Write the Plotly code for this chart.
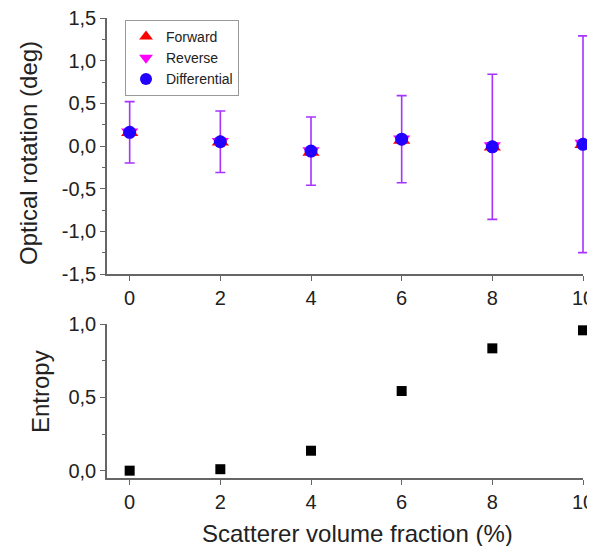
import plotly.graph_objects as go

# ---- data ----
fraction = [0, 2, 4, 6, 8, 10]
forward = [0.16, 0.05, -0.07, 0.07, -0.01, 0.02]
reverse = [0.16, 0.05, -0.06, 0.08, 0.00, 0.03]
differential = [0.16, 0.05, -0.06, 0.08, -0.01, 0.02]
rot_error = [0.36, 0.36, 0.40, 0.51, 0.85, 1.27]
entropy = [0.00, 0.01, 0.136, 0.543, 0.834, 0.957]

rot_ticks = [-1.5, -1.0, -0.5, 0.0, 0.5, 1.0, 1.5]
rot_ticktext = ["-1,5", "-1,0", "-0,5", "0,0", "0,5", "1,0", "1,5"]
ent_ticks = [0.0, 0.5, 1.0]
ent_ticktext = ["0,0", "0,5", "1,0"]
x_ticks = [0, 2, 4, 6, 8, 10]

FONT = "Arial, 'Liberation Sans', sans-serif"
AX = "#666666"
ERR = "#A633FF"
TXT = "#222222"

# page has an 8px body margin: figure is placed at (8, 8)
OFF = 8
W, H = 595 - OFF, 546 - OFF
# target page-pixel geometry
AX_LEFT, AX_RIGHT, AX_TOP, AX_BOTTOM = 107, 583, 18, 478
ML = AX_LEFT - OFF
MT = AX_TOP - OFF
MB = H - (AX_BOTTOM - OFF)
PLOT_RIGHT = 591                      # overlay axis reaches here (page px)
MR = W - (PLOT_RIGHT - OFF)
PW = W - ML - MR
PH = H - MT - MB
XMIN, XMAX = -0.5, 10.0
dom_r = (AX_RIGHT - AX_LEFT) / PW
x3_max = XMIN + (XMAX - XMIN) / dom_r


def px_x(p):
    return (p - AX_LEFT) / PW


def px_y(p):
    return (AX_BOTTOM - p) / PH


fig = go.Figure()

fig.add_trace(go.Scatter(
    x=fraction, y=forward, mode="markers", name="Forward",
    marker=dict(symbol="triangle-up", size=15, color="#FF0000"),
    xaxis="x3", yaxis="y3", cliponaxis=False))
fig.add_trace(go.Scatter(
    x=fraction, y=reverse, mode="markers", name="Reverse",
    marker=dict(symbol="triangle-down", size=15, color="#FF00FF"),
    xaxis="x3", yaxis="y3", cliponaxis=False))
fig.add_trace(go.Scatter(
    x=fraction, y=differential, mode="markers", name="Differential",
    marker=dict(symbol="circle", size=13, color="#2200FF"),
    error_y=dict(type="data", array=rot_error, visible=True,
                 color=ERR, thickness=1.6, width=5),
    xaxis="x3", yaxis="y3", cliponaxis=False))

fig.add_trace(go.Scatter(
    x=fraction, y=entropy, mode="markers", name="Entropy",
    marker=dict(symbol="square", size=10, color="#000000"),
    xaxis="x2", yaxis="y2", showlegend=False, cliponaxis=False))

# zero reference line
fig.add_shape(type="line", xref="x", yref="y",
              x0=fraction[0], x1=fraction[-1], y0=0, y1=0,
              line=dict(color="#DDDDDD", width=1.2), layer="below")

common_x = dict(range=[XMIN, XMAX], tickvals=x_ticks, ticks="outside", ticklen=5,
                tickcolor=AX, showline=True, linecolor=AX, linewidth=1.5,
                showgrid=False, zeroline=False, automargin=False,
                ticklabeloverflow="allow",
                tickfont=dict(size=20, color=TXT, family=FONT))
common_y = dict(ticks="outside", ticklen=5, tickcolor=AX, showline=True,
                linecolor=AX, linewidth=1.5, showgrid=False, zeroline=False,
                automargin=False, ticklabeloverflow="allow",
                tickfont=dict(size=20, color=TXT, family=FONT),
                minor=dict(ticks="outside", ticklen=3, tickcolor=AX, dtick=0.25,
                           showgrid=False))

top_dom = [px_y(274), 1]
bot_dom = [0, px_y(324)]

fig.update_layout(
    width=W, height=H,
    margin=dict(l=ML, r=MR, t=MT, b=MB),
    paper_bgcolor="white", plot_bgcolor="white",
    font=dict(family=FONT, color=TXT),
    showlegend=True,
    legend=dict(x=px_x(125), y=px_y(20), xanchor="left", yanchor="top",
                bordercolor="#999999", borderwidth=1, bgcolor="white",
                font=dict(size=14, family=FONT, color=TXT),
                tracegroupgap=0, itemsizing="constant"),
    xaxis=dict(domain=[0, dom_r], anchor="y", **common_x),
    yaxis=dict(domain=top_dom, anchor="x", range=[-1.5, 1.5],
               tickvals=rot_ticks, ticktext=rot_ticktext, **common_y),
    xaxis2=dict(domain=[0, dom_r], anchor="y2", **common_x),
    yaxis2=dict(domain=bot_dom, anchor="x2", range=[-0.05, 1.0],
                tickvals=ent_ticks, ticktext=ent_ticktext, **common_y),
    xaxis3=dict(domain=[0, 1], anchor="y3", range=[XMIN, x3_max],
                visible=False, automargin=False),
    yaxis3=dict(domain=top_dom, anchor="x3", range=[-1.5, 1.5],
                visible=False, automargin=False),
    annotations=[
        dict(text="Optical rotation (deg)", xref="paper", yref="paper",
             x=px_x(28), y=px_y(153), textangle=-90, showarrow=False,
             xanchor="center", yanchor="middle",
             font=dict(size=24, family=FONT, color=TXT)),
        dict(text="Entropy", xref="paper", yref="paper",
             x=px_x(40), y=px_y(392), textangle=-90, showarrow=False,
             xanchor="center", yanchor="middle",
             font=dict(size=24, family=FONT, color=TXT)),
        dict(text="Scatterer volume fraction (%)", xref="paper", yref="paper",
             x=px_x(357), y=px_y(533), showarrow=False,
             xanchor="center", yanchor="middle",
             font=dict(size=24, family=FONT, color=TXT)),
    ],
)

fig.write_html("out.html")
